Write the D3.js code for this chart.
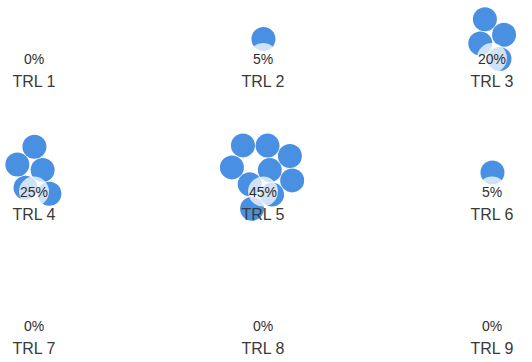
<!DOCTYPE html>
<html>
<head>
<meta charset="utf-8">
<script src="https://cdn.jsdelivr.net/npm/d3@7"></script>
<style>
  html, body { margin: 0; padding: 0; background: #fff; }
  svg { display: block; }
</style>
</head>
<body>
<div id="chart"></div>
<script>
// Technology readiness levels and how many projects sit at each level
const categories = ["TRL 1", "TRL 2", "TRL 3", "TRL 4", "TRL 5", "TRL 6", "TRL 7", "TRL 8", "TRL 9"];
const counts = [0, 1, 4, 5, 9, 1, 0, 0, 0];
const columns = [0, 1, 2];
const rows = [0, 1, 2];

const width = 532, height = 362;
const dotRadius = 12;
const total = d3.sum(counts);
const fmt = d3.format(".0%");

const x = d3.scalePoint().domain(columns).range([34, 492]);
const y = d3.scalePoint().domain(rows).range([59, 326]);

const svg = d3.select("#chart").append("svg")
  .attr("width", width)
  .attr("height", height);

const cells = categories.map((name, i) => ({
  name,
  count: counts[i],
  share: counts[i] / total,
  cx: x(columns[i % 3]),
  cy: y(rows[Math.floor(i / 3)])
}));

// One small force layout per level: each project is a dot pulled toward the
// spot just above the level's percentage and kept apart by collision.
cells.forEach(cell => {
  const nodes = d3.range(cell.count).map(() => ({}));
  const ax = cell.cx, ay = cell.cy - 20;
  const sim = d3.forceSimulation(nodes)
    .force("x", d3.forceX(ax).strength(0.04))
    .force("y", d3.forceY(ay).strength(0.04))
    .force("collide", d3.forceCollide(dotRadius + 0.3).iterations(4))
    .stop();
  nodes.forEach(n => { n.x += ax; n.y += ay; });
  sim.tick(300);
  cell.nodes = nodes;
});

const g = svg.selectAll("g.cell").data(cells).join("g").attr("class", "cell");

g.selectAll("circle.dot")
  .data(d => d.nodes)
  .join("circle")
  .attr("class", "dot")
  .attr("cx", d => d.x)
  .attr("cy", d => d.y)
  .attr("r", dotRadius)
  .attr("fill", "#4a90e2");

// Soft halo behind each percentage so it stays readable over the dots
g.filter(d => d.count > 0)
  .append("circle")
  .attr("cx", d => d.cx)
  .attr("cy", d => d.cy - 1)
  .attr("r", 15)
  .attr("fill", "#fff")
  .attr("fill-opacity", 0.74);

g.append("text")
  .attr("x", d => d.cx)
  .attr("y", d => d.cy)
  .attr("dy", "0.35em")
  .attr("text-anchor", "middle")
  .attr("font-family", "Liberation Sans, Arial, sans-serif")
  .attr("font-size", 14)
  .attr("fill", "#2e2e2e")
  .text(d => fmt(d.share));

g.append("text")
  .attr("x", d => d.cx)
  .attr("y", d => d.cy + 22)
  .attr("dy", "0.35em")
  .attr("text-anchor", "middle")
  .attr("font-family", "Liberation Sans, Arial, sans-serif")
  .attr("font-size", 16)
  .attr("fill", "#3a3a3a")
  .text(d => d.name);
</script>
</body>
</html>
